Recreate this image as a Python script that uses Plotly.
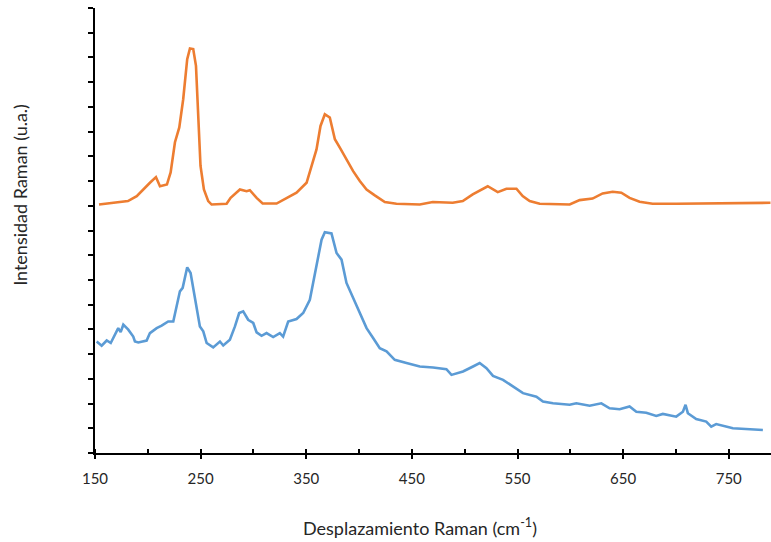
import plotly.graph_objects as go

# Orange spectrum (upper trace)
x_orange = [153.8, 181.2, 189.5, 195.4, 202.0, 207.7, 211.5, 218.1, 221.6, 225.7, 229.8, 233.5,
            237.3, 239.9, 243.0, 245.6, 247.7, 249.9, 253.1, 257.2, 260.4, 274.6, 278.4, 287.2,
            293.5, 296.6, 303.0, 308.7, 321.9, 331.4, 340.8, 350.3, 355.0, 359.7, 363.5, 367.6,
            372.3, 377.1, 381.8, 388.1, 394.4, 400.7, 407.1, 414.9, 424.4, 435.4, 457.5, 469.8,
            488.7, 498.2, 507.6, 521.8, 531.3, 539.5, 549.0, 554.9, 561.5, 571.0, 599.4, 608.8,
            621.1, 630.6, 640.1, 648.3, 656.1, 665.6, 677.9, 700.3, 789.5]
y_orange = [10.05, 10.19, 10.39, 10.66, 10.93, 11.16, 10.79, 10.86, 11.35, 12.57, 13.17, 14.31,
            15.93, 16.36, 16.34, 15.66, 13.63, 11.61, 10.66, 10.19, 10.05, 10.08, 10.32, 10.66,
            10.59, 10.63, 10.32, 10.09, 10.09, 10.32, 10.53, 10.93, 11.61, 12.28, 13.23, 13.70,
            13.57, 12.69, 12.35, 11.88, 11.40, 11.00, 10.66, 10.42, 10.15, 10.08, 10.05, 10.15,
            10.12, 10.19, 10.46, 10.79, 10.55, 10.69, 10.69, 10.39, 10.19, 10.08, 10.05, 10.23,
            10.29, 10.50, 10.57, 10.53, 10.32, 10.16, 10.08, 10.08, 10.12]

# Blue spectrum (lower trace)
x_blue = [151.6, 156.3, 161.1, 164.9, 172.0, 174.3, 176.8, 181.5, 186.2, 187.8, 191.0, 198.9,
          202.0, 208.4, 213.1, 219.3, 224.1, 227.3, 230.4, 233.0, 235.1, 237.3, 240.5, 244.6,
          249.3, 252.5, 255.7, 261.9, 268.3, 271.4, 277.7, 282.5, 286.5, 290.3, 295.0, 299.8,
          303.0, 307.7, 312.4, 318.7, 325.0, 328.1, 332.9, 340.8, 347.1, 353.4, 356.5, 359.7,
          364.5, 367.6, 372.3, 373.9, 378.7, 383.4, 388.1, 392.9, 397.6, 402.3, 407.1, 413.3,
          419.6, 426.0, 433.8, 444.9, 457.5, 470.1, 482.7, 487.5, 498.4, 507.9, 514.2, 520.6,
          526.8, 536.3, 545.7, 555.2, 567.9, 574.1, 583.6, 599.4, 605.7, 618.3, 629.4, 637.2,
          646.7, 656.1, 662.5, 671.9, 681.4, 687.6, 700.3, 706.6, 709.1, 711.3, 719.2, 728.7,
          733.4, 738.1, 753.9, 766.5, 782.3]
y_blue = [4.51, 4.34, 4.55, 4.45, 5.05, 4.89, 5.19, 4.99, 4.71, 4.51, 4.47, 4.55,
          4.85, 5.05, 5.15, 5.32, 5.32, 5.91, 6.54, 6.68, 7.15, 7.51, 7.28, 6.20,
          5.12, 4.92, 4.45, 4.27, 4.51, 4.35, 4.58, 5.12, 5.66, 5.73, 5.39, 5.26,
          4.88, 4.74, 4.85, 4.69, 4.85, 4.71, 5.32, 5.42, 5.66, 6.20, 6.88, 7.55,
          8.63, 8.93, 8.91, 8.88, 8.09, 7.82, 6.88, 6.40, 5.93, 5.46, 5.05, 4.65,
          4.24, 4.11, 3.77, 3.64, 3.50, 3.46, 3.39, 3.16, 3.30, 3.50, 3.64, 3.43,
          3.12, 2.96, 2.69, 2.42, 2.28, 2.08, 2.01, 1.95, 2.01, 1.91, 2.01, 1.81,
          1.77, 1.88, 1.67, 1.63, 1.50, 1.58, 1.47, 1.67, 1.95, 1.61, 1.37, 1.27,
          1.07, 1.17, 1.00, 0.96, 0.93]

x_tickvals = [150, 250, 350, 450, 550, 650, 750]

FONT = "Lato"

fig = go.Figure()
fig.add_trace(go.Scatter(x=x_orange, y=y_orange, mode="lines",
                         line=dict(color="#ED7D31", width=2.6), showlegend=False))
fig.add_trace(go.Scatter(x=x_blue, y=y_blue, mode="lines",
                         line=dict(color="#5B9BD5", width=2.6), showlegend=False))

fig.update_layout(
    width=771, height=542,
    margin=dict(l=95, r=0, t=8, b=89),
    paper_bgcolor="white", plot_bgcolor="white",
    font=dict(family=FONT, color="#262626", size=15),
    xaxis=dict(range=[150, 790], tickvals=x_tickvals, showgrid=False, zeroline=False,
               showline=True, linecolor="#000000", linewidth=2,
               ticks="outside", ticklen=4, tickwidth=2, tickcolor="#000000",
               ticklabelstandoff=7,
               minor=dict(dtick=50, tick0=150, ticks="inside", ticklen=4, tickwidth=2,
                          tickcolor="#000000", showgrid=False),
               tickfont=dict(family=FONT, size=15, color="#262626")),
    yaxis=dict(range=[0, 18], dtick=1, showticklabels=False, showgrid=False, zeroline=False,
               showline=True, linecolor="#000000", linewidth=2,
               ticks="outside", ticklen=5, tickwidth=2, tickcolor="#000000"),
    annotations=[
        dict(text="Desplazamiento Raman (cm<sup>-1</sup>)", xref="paper", yref="paper",
             x=0.481, y=-0.166, xanchor="center", yanchor="middle", showarrow=False,
             font=dict(family=FONT, size=18, color="#262626")),
        dict(text="Intensidad Raman (u.a.)", xref="paper", yref="paper",
             x=-0.111, y=0.58, xanchor="center", yanchor="middle", showarrow=False,
             textangle=-90, font=dict(family=FONT, size=18, color="#262626")),
    ],
)

fig.write_html("out.html")
